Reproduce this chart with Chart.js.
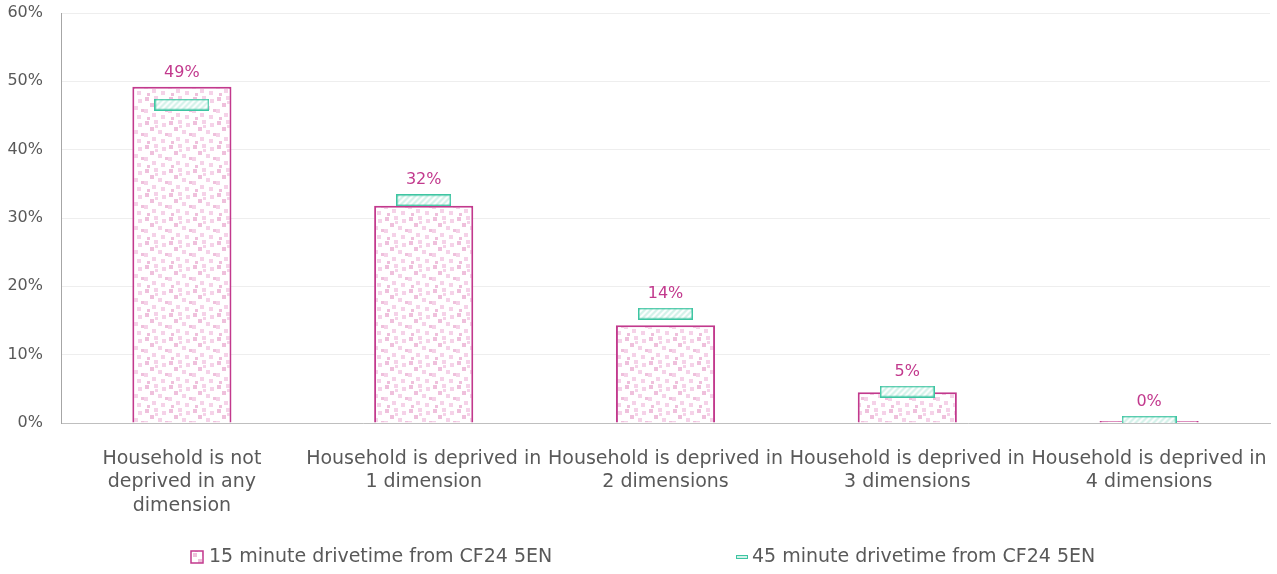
<!DOCTYPE html>
<html>
<head>
<meta charset="utf-8">
<script src="https://cdn.jsdelivr.net/npm/chart.js@4"></script>
<style>
  html, body { margin: 0; padding: 0; background: #fff; }
  #wrap { width: 1277px; height: 574px; }
</style>
</head>
<body>
<div id="wrap"><canvas id="chart" width="1277" height="574"></canvas></div>
<script>
const categories = [
  ["Household is not", "deprived in any", "dimension"],
  ["Household is deprived in", "1 dimension"],
  ["Household is deprived in", "2 dimensions"],
  ["Household is deprived in", "3 dimensions"],
  ["Household is deprived in", "4 dimensions"]
];
const drive15 = [49.2, 31.8, 14.3, 4.5, 0.3];
const drive45 = [46.6, 32.6, 16.0, 4.6, 0.2];
const seriesNames = ["15 minute drivetime from CF24 5EN", "45 minute drivetime from CF24 5EN"];

const FONT = "'DejaVu Sans', sans-serif";
const GREY = "#595959";
const PINK = "#c2398d";
const TEAL = "#3ec5a2";

// confetti pattern for the 15 minute bars
function confetti() {
  const c = document.createElement("canvas");
  c.width = 24; c.height = 24;
  const g = c.getContext("2d");
  g.fillStyle = "#fff";
  g.fillRect(0, 0, 24, 24);
  const dots = [[1,1,4],[10,0,4],[18,3,4],[6,7,4],[14,10,4],[0,13,4],[21,13,3],[8,17,4],[17,19,4],[3,21,3],[11,5,3]];
  dots.forEach(([x, y, s], i) => {
    g.fillStyle = i % 3 === 0 ? "#efc0dc" : "#f5d2e8";
    g.fillRect(x, y, s, s);
  });
  return document.getElementById("chart").getContext("2d").createPattern(c, "repeat");
}

// hatched marker for the 45 minute series
function hatchMarker(w, h) {
  const c = document.createElement("canvas");
  c.width = w; c.height = h;
  const g = c.getContext("2d");
  g.fillStyle = "#d2f2e9";
  g.fillRect(0, 0, w, h);
  g.save();
  g.beginPath(); g.rect(0, 0, w, h); g.clip();
  g.strokeStyle = "#ffffff";
  g.lineWidth = 2;
  for (let x = -h; x < w + h; x += 6) {
    g.beginPath(); g.moveTo(x, h); g.lineTo(x + h, 0); g.stroke();
  }
  g.restore();
  g.strokeStyle = TEAL;
  g.lineWidth = 1.5;
  g.strokeRect(0.75, 0.75, w - 1.5, h - 1.5);
  return c;
}

const marker = hatchMarker(55, 12);

const labelsPlugin = {
  id: "valueLabels",
  afterDatasetsDraw(chart) {
    const ctx = chart.ctx;
    const bars = chart.getDatasetMeta(0).data;
    const pts = chart.getDatasetMeta(1).data;
    ctx.save();
    ctx.font = "16px " + FONT;
    ctx.fillStyle = PINK;
    ctx.textAlign = "center";
    ctx.textBaseline = "middle";
    drive15.forEach((v, i) => {
      const top = Math.min(bars[i].y, pts[i].y - 6);
      ctx.fillText(Math.round(v) + "%", bars[i].x, top - 14);
    });
    ctx.restore();
  }
};

const legendPlugin = {
  id: "bottomLegend",
  afterDraw(chart) {
    const ctx = chart.ctx;
    const y = 557;
    ctx.save();
    ctx.font = "19px " + FONT;
    ctx.textBaseline = "middle";
    // 15 minute item
    ctx.fillStyle = confetti();
    ctx.fillRect(191, y - 6, 12, 12);
    ctx.strokeStyle = PINK;
    ctx.lineWidth = 1.5;
    ctx.strokeRect(191, y - 6, 12, 12);
    ctx.fillStyle = GREY;
    ctx.fillText(seriesNames[0], 209, y);
    // 45 minute item
    ctx.fillStyle = "#d2f2e9";
    ctx.fillRect(736, y - 2, 12, 4);
    ctx.strokeStyle = TEAL;
    ctx.lineWidth = 1;
    ctx.strokeRect(736.5, y - 1.5, 11, 3);
    ctx.fillStyle = GREY;
    ctx.fillText(seriesNames[1], 752, y);
    ctx.restore();
  }
};

new Chart(document.getElementById("chart"), {
  type: "bar",
  data: {
    labels: categories,
    datasets: [
      {
        label: seriesNames[0],
        data: drive15,
        backgroundColor: confetti(),
        borderColor: PINK,
        borderWidth: 2,
        borderSkipped: "bottom",
        categoryPercentage: 1,
        barPercentage: 0.41,
        order: 2
      },
      {
        type: "line",
        label: seriesNames[1],
        data: drive45,
        showLine: false,
        pointStyle: marker,
        pointRadius: 6,
        order: 1
      }
    ]
  },
  options: {
    responsive: false,
    animation: false,
    layout: { autoPadding: false, padding: { left: 0, right: 7, top: 13, bottom: 0 } },
    plugins: { legend: { display: false }, tooltip: { enabled: false } },
    scales: {
      x: {
        grid: { display: false },
        border: { color: "#bfbfbf" },
        ticks: { color: GREY, font: { family: FONT, size: 19, lineHeight: 1.24 }, padding: 16, maxRotation: 0, autoSkip: false },
        afterFit: (s) => { s.height = 151; s.paddingLeft = 0; s.paddingRight = 0; }
      },
      y: {
        min: 0,
        max: 60,
        ticks: { stepSize: 10, color: GREY, font: { family: FONT, size: 16 }, padding: 18, callback: (v) => v + "%" },
        grid: { color: "#eeeeee", drawTicks: false },
        border: { color: "#a6a6a6" },
        afterFit: (s) => { s.width = 61; s.paddingTop = 0; s.paddingBottom = 0; }
      }
    }
  },
  plugins: [labelsPlugin, legendPlugin]
});
</script>
</body>
</html>
